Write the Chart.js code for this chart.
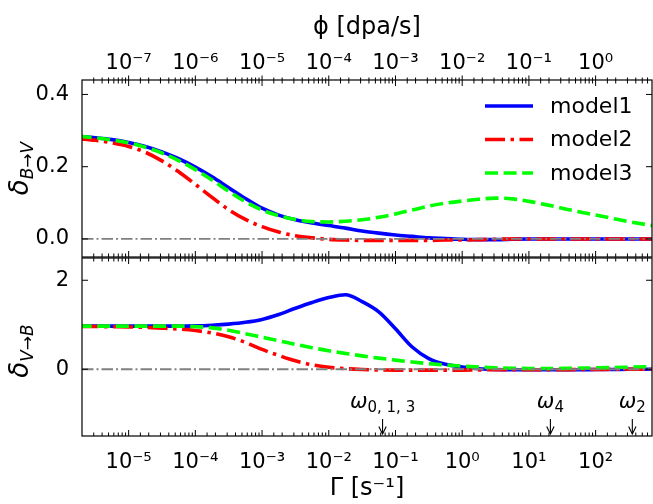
<!DOCTYPE html>
<html>
<head>
<meta charset="utf-8">
<script src="https://cdn.jsdelivr.net/npm/chart.js@4.4.1/dist/chart.umd.min.js"></script>
<style>
  html, body { margin: 0; padding: 0; background: #fff; }
  #wrap { position: relative; width: 653px; height: 504px; overflow: hidden; }
  canvas { position: absolute; left: 0; }
  #top { top: 0; }
  #bot { top: 257px; }
</style>
</head>
<body>
<div id="wrap">
  <canvas id="top" width="653" height="258"></canvas>
  <canvas id="bot" width="653" height="247"></canvas>
</div>
<script>
// Gamma grid [s^-1], quarter decades
const gamma = [1.78e-6, 3.16e-6, 5.62e-6,
  1e-5, 1.78e-5, 3.16e-5, 5.62e-5,
  1e-4, 1.78e-4, 3.16e-4, 5.62e-4,
  1e-3, 1.78e-3, 3.16e-3, 5.62e-3,
  1e-2, 1.78e-2, 3.16e-2, 5.62e-2,
  0.1, 0.178, 0.316, 0.562,
  1, 1.78, 3.16, 5.62,
  10, 17.8, 31.6, 56.2,
  100, 178, 316, 562,
  1000];
const gammaLimits = [2e-6, 700];
const phiPerGamma = 1e-2; // dpa per s^-1, for the top axis

// delta B->V (upper panel)
const bvModel1 = [0.284, 0.280, 0.275, 0.267, 0.256, 0.241, 0.222, 0.199, 0.172, 0.142, 0.112, 0.085,
  0.066, 0.053, 0.044, 0.037, 0.030, 0.022, 0.016, 0.011, 0.007, 0.003, 0.001, -0.001,
  -0.002, -0.002, -0.001, 0, 0, 0, 0, 0, 0, 0, 0, 0];
const bvModel2 = [0.278, 0.273, 0.266, 0.256, 0.240, 0.216, 0.186, 0.151, 0.115, 0.081, 0.054, 0.034,
  0.019, 0.009, 0.003, -0.001, -0.003, -0.004, -0.004, -0.004, -0.004, -0.004, -0.003, -0.003,
  -0.002, -0.001, 0, 0, 0, 0, 0, 0, 0, 0, 0, 0];
const bvModel3 = [0.284, 0.280, 0.274, 0.266, 0.254, 0.238, 0.217, 0.192, 0.163, 0.132, 0.103, 0.080,
  0.064, 0.054, 0.048, 0.047, 0.049, 0.053, 0.060, 0.069, 0.080, 0.091, 0.099, 0.105,
  0.110, 0.113, 0.111, 0.104, 0.095, 0.085, 0.075, 0.066, 0.057, 0.048, 0.040, 0.033];

// delta V->B (lower panel)
const vbModel1 = [0.97, 0.97, 0.97, 0.97, 0.97, 0.97, 0.97, 0.975, 0.99, 1.015, 1.055, 1.12,
  1.23, 1.37, 1.50, 1.61, 1.675, 1.52, 1.29, 0.91, 0.50, 0.24, 0.11, 0.05,
  0.01, -0.005, -0.01, -0.01, -0.01, -0.01, -0.01, -0.007, -0.005, 0, 0, 0];
const vbModel2 = [0.96, 0.96, 0.955, 0.95, 0.94, 0.925, 0.905, 0.87, 0.815, 0.73, 0.605, 0.445,
  0.31, 0.19, 0.10, 0.045, 0.013, -0.005, -0.015, -0.02, -0.02, -0.02, -0.02, -0.02,
  -0.015, -0.01, -0.01, -0.01, -0.01, -0.01, -0.005, -0.005, 0, 0, 0, 0];
const vbModel3 = [0.97, 0.97, 0.97, 0.97, 0.97, 0.97, 0.97, 0.958, 0.93, 0.875, 0.80, 0.72,
  0.64, 0.56, 0.485, 0.415, 0.355, 0.30, 0.25, 0.205, 0.163, 0.127, 0.096, 0.07,
  0.05, 0.034, 0.023, 0.017, 0.016, 0.019, 0.024, 0.03, 0.038, 0.047, 0.056, 0.064];

const seriesNames = ['model1', 'model2', 'model3'];
const yTopTicks = [0, 0.2, 0.4];
const yTopLimits = [-0.05, 0.44];
const yBotTicks = [0, 2];
const yBotLimits = [-1.5, 2.5];

// characteristic rates marked with arrows
const omegaGamma = [0.064, 21, 355];
const omegaSubs = ['0, 1, 3', '4', '2'];

const FONT = '"DejaVu Sans"';
Chart.defaults.font.family = FONT;
Chart.defaults.color = '#000';

const styles = [
  { color: '#0000ff', dash: [] },
  { color: '#ff0000', dash: [20, 5.5, 3.5, 5.5] },
  { color: '#00ff00', dash: [13, 5.6] },
];

const supMap = { '-': '\u207b', '0': '\u2070', '1': '\u00b9', '2': '\u00b2', '3': '\u00b3',
  '4': '\u2074', '5': '\u2075', '6': '\u2076', '7': '\u2077', '8': '\u2078', '9': '\u2079' };

function isDecade(v) {
  const e = Math.log10(v);
  return Math.abs(e - Math.round(e)) < 1e-6;
}

function powLabel(v) {
  if (!isDecade(v)) return '';
  const k = Math.round(Math.log10(v));
  return '10' + String(k).split('').map(c => supMap[c]).join('');
}

function makeDatasets(values) {
  const sets = values.map((vals, i) => ({
    label: seriesNames[i],
    data: gamma.map((g, j) => ({ x: g, y: vals[j] })),
    borderColor: styles[i].color,
    borderDash: styles[i].dash,
    borderWidth: 3.6,
    pointRadius: 0,
    cubicInterpolationMode: 'monotone',
    order: 4 - i,
  }));
  sets.push({
    label: 'zero',
    data: gammaLimits.map(g => ({ x: g, y: 0 })),
    borderColor: '#808080',
    borderDash: [11.5, 3, 2, 3],
    borderWidth: 1.8,
    pointRadius: 0,
    order: 0,
  });
  return sets;
}

function seg(ctx, x1, y1, x2, y2) {
  ctx.beginPath();
  ctx.moveTo(x1, y1);
  ctx.lineTo(x2, y2);
  ctx.stroke();
}

// drop the label overflow padding chart.js adds, so the plot box sits where we size it
function noPad(s) {
  s.paddingTop = 0;
  s.paddingBottom = 0;
  s.paddingLeft = 0;
  s.paddingRight = 0;
}

// box + inward ticks on all sides, outward ticks for the phi axis
const frameTicks = {
  id: 'frameTicks',
  afterDraw(chart) {
    const { ctx, chartArea: a, scales } = chart;
    ctx.save();
    ctx.strokeStyle = '#000';
    ctx.lineWidth = 1.2;
    ctx.strokeRect(a.left, a.top, a.right - a.left, a.bottom - a.top);
    ctx.lineWidth = 1;
    scales.x.ticks.forEach(t => {
      const p = scales.x.getPixelForValue(t.value);
      if (p < a.left + 0.5 || p > a.right - 0.5) return;
      const len = isDecade(t.value) ? 6 : 3.5;
      seg(ctx, p, a.bottom, p, a.bottom - len);
      seg(ctx, p, a.top, p, a.top + len);
    });
    scales.y.ticks.forEach(t => {
      const p = scales.y.getPixelForValue(t.value);
      seg(ctx, a.left, p, a.left + 6, p);
      seg(ctx, a.right, p, a.right - 6, p);
    });
    if (scales.x2) {
      scales.x2.ticks.forEach(t => {
        const p = scales.x2.getPixelForValue(t.value);
        if (p < a.left + 0.5 || p > a.right - 0.5) return;
        const len = isDecade(t.value) ? 4.5 : 2.5;
        seg(ctx, p, a.top, p, a.top - len);
      });
    }
    ctx.restore();
  }
};

// rotated y label with a subscript
const yTitle = {
  id: 'yTitle',
  afterDraw(chart, args, o) {
    const { ctx, chartArea: a } = chart;
    ctx.save();
    ctx.fillStyle = '#000';
    ctx.textBaseline = 'alphabetic';
    const mainFont = 'italic 26px ' + FONT;
    const subFont = 'italic 17px ' + FONT;
    const arrowFont = '17px ' + FONT;
    const parts = [
      { t: 'δ', f: mainFont, dy: 0 },
      { t: o.from, f: subFont, dy: 5 },
      { t: '→', f: arrowFont, dy: 5 },
      { t: o.to, f: subFont, dy: 5 },
    ];
    let total = 0;
    parts.forEach(p => { ctx.font = p.f; p.w = ctx.measureText(p.t).width; total += p.w; });
    ctx.translate(o.x, (a.top + a.bottom) / 2 + o.shift);
    ctx.rotate(-Math.PI / 2);
    let cx = -total / 2;
    parts.forEach(p => {
      ctx.font = p.f;
      ctx.fillText(p.t, cx, p.dy);
      cx += p.w;
    });
    ctx.restore();
  }
};

const lineLegend = {
  id: 'lineLegend',
  afterDatasetsDraw(chart) {
    const { ctx, chartArea: a } = chart;
    chart.data.datasets.slice(0, 3).forEach((ds, i) => {
      const y = a.top + 26 + i * 33.5;
      ctx.save();
      ctx.strokeStyle = ds.borderColor;
      ctx.lineWidth = ds.borderWidth;
      ctx.setLineDash(ds.borderDash);
      seg(ctx, a.right - 167, y, a.right - 119, y);
      ctx.setLineDash([]);
      ctx.fillStyle = '#000';
      ctx.font = '22px ' + FONT;
      ctx.textBaseline = 'middle';
      ctx.fillText(ds.label, a.right - 102, y + 1);
      ctx.restore();
    });
  }
};

const omegaMarks = {
  id: 'omegaMarks',
  afterDraw(chart) {
    const { ctx, chartArea: a, scales: { x } } = chart;
    ctx.save();
    ctx.fillStyle = '#000';
    ctx.strokeStyle = '#000';
    ctx.lineWidth = 1.1;
    omegaGamma.forEach((g, i) => {
      const px = x.getPixelForValue(g);
      ctx.font = 'italic 21px ' + FONT;
      const w1 = ctx.measureText('ω').width;
      ctx.font = '15px ' + FONT;
      const w2 = ctx.measureText(omegaSubs[i]).width;
      const sx = px - (w1 + w2) / 2;
      const by = a.bottom - 28;
      ctx.font = 'italic 21px ' + FONT;
      ctx.fillText('ω', sx, by);
      ctx.font = '15px ' + FONT;
      ctx.fillText(omegaSubs[i], sx + w1, by + 4);
      const tip = a.bottom - 2;
      seg(ctx, px, a.bottom - 17, px, tip);
      ctx.beginPath();
      ctx.moveTo(px - 3.7, tip - 7.5);
      ctx.lineTo(px, tip);
      ctx.lineTo(px + 3.7, tip - 7.5);
      ctx.stroke();
    });
    ctx.restore();
  }
};

function gammaAxis(showLabels, height) {
  return {
    type: 'logarithmic',
    position: 'bottom',
    min: gammaLimits[0],
    max: gammaLimits[1],
    ticks: {
      display: showLabels,
      autoSkip: false,
      maxRotation: 0,
      font: { size: 21 },
      padding: 6,
      callback: v => powLabel(v),
    },
    title: {
      display: showLabels,
      text: 'Γ [s\u207b\u00b9]',
      font: { size: 24 },
      padding: { top: 0, bottom: 1 },
    },
    grid: { display: false },
    border: { display: false },
    afterFit: s => { s.height = height; noPad(s); },
  };
}

function valueAxis(limits, tickVals, fmt) {
  return {
    min: limits[0],
    max: limits[1],
    afterBuildTicks: s => { s.ticks = tickVals.map(v => ({ value: v })); },
    ticks: { font: { size: 21 }, padding: 5, callback: fmt },
    grid: { display: false },
    border: { display: false },
    afterFit: s => { s.width = 82; noPad(s); },
  };
}

const common = {
  responsive: false,
  animation: false,
  devicePixelRatio: 1,
  events: [],
};

new Chart(document.getElementById('top'), {
  type: 'line',
  data: { datasets: makeDatasets([bvModel1, bvModel2, bvModel3]) },
  options: {
    ...common,
    layout: { padding: { left: 0, right: 1, top: 0, bottom: 0 } },
    scales: {
      x: gammaAxis(false, 1),
      x2: {
        type: 'logarithmic',
        position: 'top',
        min: gammaLimits[0] * phiPerGamma,
        max: gammaLimits[1] * phiPerGamma,
        ticks: {
          autoSkip: false,
          maxRotation: 0,
          font: { size: 21 },
          padding: -4,
          callback: v => powLabel(v),
        },
        title: {
          display: true,
          text: 'ϕ [dpa/s]',
          font: { size: 24 },
          padding: { top: 13, bottom: 0 },
        },
        grid: { display: false },
        border: { display: false },
        afterFit: s => { s.height = 80; noPad(s); },
      },
      y: valueAxis(yTopLimits, yTopTicks, v => v.toFixed(1)),
    },
    plugins: {
      legend: { display: false },
      tooltip: { enabled: false },
      yTitle: { x: 28, shift: 0, from: 'B', to: 'V' },
    },
  },
  plugins: [frameTicks, yTitle, lineLegend],
});

new Chart(document.getElementById('bot'), {
  type: 'line',
  data: { datasets: makeDatasets([vbModel1, vbModel2, vbModel3]) },
  options: {
    ...common,
    layout: { padding: { left: 0, right: 1, top: 1, bottom: 0 } },
    scales: {
      x: gammaAxis(true, 68),
      y: valueAxis(yBotLimits, yBotTicks, v => String(v)),
    },
    plugins: {
      legend: { display: false },
      tooltip: { enabled: false },
      yTitle: { x: 28, shift: 4, from: 'V', to: 'B' },
    },
  },
  plugins: [frameTicks, yTitle, omegaMarks],
});
</script>
</body>
</html>
